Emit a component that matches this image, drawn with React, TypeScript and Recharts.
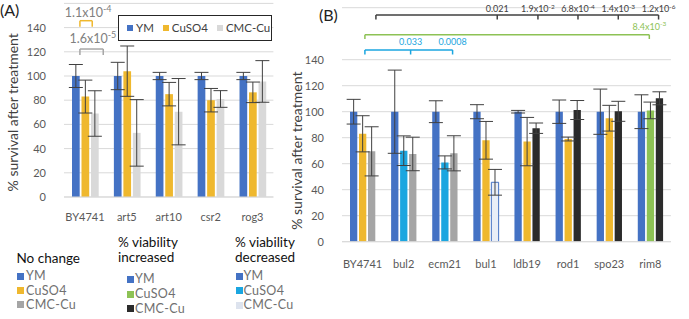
import React from "react";
import {
    BarChart,
    Bar,
    XAxis,
    YAxis,
    CartesianGrid,
    ErrorBar,
    Cell,
    Legend,
    ReferenceLine,
    ReferenceDot,
} from "recharts";

// panel A values
const strainsA = ["BY4741", "art5", "art10", "csr2", "rog3"];
const ymA = [100, 100, 100, 100, 100];
const ymErrA = [9.5, 11.3, 3, 3, 3];
const cuA = [83, 104, 85, 80, 86.5];
const cuErrA = [13.6, 20.8, 9.7, 9.7, 8.5];
const cmcA = [69, 53, 70.5, 81, 95.5];
const cmcErrA = [18.8, 27.5, 27.4, 6.9, 17.2];

// panel B values
const strainsB = ["BY4741", "bul2", "ecm21", "bul1", "ldb19", "rod1", "spo23", "rim8"];
const ymB = [100, 100, 100, 100, 100, 100, 100, 100];
const ymErrB = [9.5, 32, 8.4, 5.4, 1, 9, 17.4, 13];
const cuB = [83, 70, 61, 78, 77, 79, 95, 101];
const cuErrB = [13.9, 11.4, 5, 14.5, 18.6, 1.5, 9.9, 6.4];
const cmcB = [69.5, 67.5, 68, 45.7, 87.3, 101.3, 100.3, 110.3];
const cmcErrB = [18.9, 12.9, 13.5, 9.9, 4, 7.3, 7.7, 5];
const cuChangeB = ["none", "down", "down", "none", "none", "none", "none", "up"];
const cmcChangeB = ["none", "none", "none", "down", "up", "up", "up", "up"];

const seriesNames = ["YM", "CuSO4", "CMC-Cu"];
const yTicks = [0, 20, 40, 60, 80, 100, 120, 140];

// p-value brackets: [strain, position inside its category band]
const bracketsA = [
    { color: "#EFB82E", text: "#808080", y: 145.7, drop: 5, ticks: [["BY4741", 0.38], ["BY4741", 0.674]], labels: [{ at: ["BY4741", 0.578], text: "1.1x10^-4", lift: 3.5, size: 12.5 }] },
    { color: "#A6A6A6", text: "#808080", y: 122.3, drop: 4.9, ticks: [["BY4741", 0.38], ["BY4741", 0.937]], labels: [{ at: ["BY4741", 0.69], text: "1.6x10^-5", lift: 6, size: 12.5 }] },
];
const bracketsB = [
    {
        color: "#404040", text: "#404040", y: 174.4, drop: 3.5,
        ticks: [["BY4741", 0.825], ["bul1", 0.776], ["ldb19", 0.766], ["rod1", 0.74], ["spo23", 0.72], ["rim8", 0.7]],
        labels: [
            { at: ["bul1", 0.776], text: "0.021", lift: 2.5, size: 9 },
            { at: ["ldb19", 0.766], text: "1.9x10^-2", lift: 2.5, size: 9 },
            { at: ["rod1", 0.74], text: "6.8x10^-4", lift: 2.5, size: 9 },
            { at: ["spo23", 0.72], text: "1.4x10^-3", lift: 2.5, size: 9 },
            { at: ["rim8", 0.7], text: "1.2x10^-6", lift: 2.5, size: 9 },
        ],
    },
    {
        color: "#8DC255", text: "#8DC255", y: 159.2, drop: 3.3,
        ticks: [["BY4741", 0.557], ["rim8", 0.475]],
        labels: [{ at: ["rim8", 0.475], text: "8.4x10^-3", lift: 5, size: 9 }],
    },
    {
        color: "#1BA6E0", text: "#1BA6E0", y: 147.5, drop: 3.5,
        ticks: [["BY4741", 0.557], ["bul2", 0.669], ["ecm21", 0.69]],
        labels: [
            { at: ["bul2", 0.669], text: "0.033", lift: 4.5, size: 9 },
            { at: ["ecm21", 0.69], text: "0.0008", lift: 4.5, size: 9 },
        ],
    },
];

const FONT = "Lato, 'Open Sans', sans-serif";
const BLUE = "#4472C4";
const YELLOW = "#EFB82E";
const LIGHT = "#D9D9D9";
const GRAY = "#A5A5A5";
const CYAN = "#1BA6E0";
const GREEN = "#8DC255";
const DARK = "#2B2B2B";
const PALE = "#E9EEF7";

const cuFill: Record<string, string> = { none: YELLOW, down: CYAN, up: GREEN };
const cmcFill: Record<string, string> = { none: GRAY, down: PALE, up: DARK };

// slot = centre of each category band, used by the hidden numeric axis
const tableA = strainsA.map((s, i) => ({
    strain: s, slot: i + 0.5, ym: ymA[i], ymErr: ymErrA[i], cu: cuA[i], cuErr: cuErrA[i], cmc: cmcA[i], cmcErr: cmcErrA[i],
}));
const tableB = strainsB.map((s, i) => ({
    strain: s, slot: i + 0.5, ym: ymB[i], ymErr: ymErrB[i], cu: cuB[i], cuErr: cuErrB[i], cmc: cmcB[i], cmcErr: cmcErrB[i],
}));

const tickStyle = { fill: "#595959", fontSize: 11, fontFamily: FONT };

const sciLabel = (text: string, color: string, size: number, lift: number) => (p: any) => {
    const vb = p.viewBox;
    const [base, exp] = text.split("^");
    return (
        <text x={vb.x + vb.width / 2} y={vb.y - lift} textAnchor="middle" fill={color} fontSize={size} fontFamily={FONT}>
            {base}
            {exp && <tspan dy={-size * 0.38} fontSize={size * 0.72}>{exp}</tspan>}
        </text>
    );
};

function bracketMarks(b: any, cats: string[], id: string) {
    const pos = (t: any) => cats.indexOf(t[0]) + t[1];
    const xs = b.ticks.map(pos);
    const els: any[] = [
        <ReferenceLine key={id + "h"} xAxisId="pos" ifOverflow="visible"
            segment={[{ x: Math.min(...xs), y: b.y }, { x: Math.max(...xs), y: b.y }]} stroke={b.color} strokeWidth={1.5} />,
    ];
    xs.forEach((x: number, i: number) =>
        els.push(<ReferenceLine key={id + "t" + i} xAxisId="pos" ifOverflow="visible"
            segment={[{ x, y: b.y }, { x, y: b.y - b.drop }]} stroke={b.color} strokeWidth={1.5} />)
    );
    b.labels.forEach((l: any, i: number) =>
        els.push(
            <ReferenceDot key={id + "l" + i} xAxisId="pos" ifOverflow="visible" x={pos(l.at)} y={b.y} r={0} fill="none" stroke="none"
                label={{ content: sciLabel(l.text, b.text, l.size, l.lift) }} />
        )
    );
    return els;
}

const axisTitle = (dx: number, top: number) => (p: any) => {
    const vb = p.viewBox;
    const x = vb.x + dx;
    const y = vb.y + vb.height * (1 - 70 / top);
    return (
        <text x={x} y={y} transform={`rotate(-90 ${x} ${y})`} textAnchor="middle" dominantBaseline="central"
            fill="#404040" fontSize={14} fontFamily={FONT}>
            % survival after treatment
        </text>
    );
};

const legendBoxA = (p: any) => {
    const items = [...(p.payload || [])].sort((a: any, b: any) => seriesNames.indexOf(a.value) - seriesNames.indexOf(b.value));
    return (
        <div style={{ boxSizing: "border-box", width: 154, height: 26, border: "1.3px solid #262626", background: "#fff", display: "flex", alignItems: "center", paddingLeft: 8, fontFamily: FONT, fontSize: 11.5, color: "#404040", whiteSpace: "nowrap" }}>
            {items.map((e: any) => (
                <span key={e.value} style={{ display: "flex", alignItems: "center", marginRight: 9 }}>
                    <span style={{ width: 6, height: 6, background: e.color, marginRight: 3 }} />
                    {e.value}
                </span>
            ))}
        </div>
    );
};

const errProps = { width: 7, stroke: "#404040", strokeWidth: 1, direction: "y" as const, isAnimationActive: false };

const legendCols = [
    { left: 16.5, square: 16.5, text: 26, titles: [["No change", 257.5]], items: [["YM", BLUE, 276], ["CuSO4", YELLOW, 290.5], ["CMC-Cu", GRAY, 304.5]] },
    { left: 118, square: 126.5, text: 135, titles: [["% viability", 241.5], ["increased", 257]], items: [["YM", BLUE, 279], ["CuSO4", GREEN, 294], ["CMC-Cu", DARK, 308.5]] },
    { left: 235, square: 235.5, text: 243.5, titles: [["% viability", 241.5], ["decreased", 257]], items: [["YM", BLUE, 276], ["CuSO4", CYAN, 290.5], ["CMC-Cu", "#DDE3EE", 305]] },
];

export default function App() {
    return (
        <div style={{ position: "absolute", left: 0, top: 0, width: 689, height: 319, background: "#fff", fontFamily: FONT }}>
            <div style={{ position: "absolute", left: 0, top: 0 }}>
                <BarChart width={290} height={230} data={tableA} margin={{ top: 3.4, right: 16.6, bottom: 3, left: 0 }}
                    barSize={7.7} barGap={1.8}>
                    <CartesianGrid vertical={false} stroke="#D9D9D9" />
                    <XAxis dataKey="strain" interval={0} height={30} tickLine={false} axisLine={{ stroke: "#D9D9D9" }} tick={tickStyle} tickMargin={10} />
                    <XAxis xAxisId="pos" dataKey="slot" type="number" scale="linear" domain={[0, strainsA.length]} allowDataOverflow hide />
                    <YAxis domain={[0, 160]} ticks={yTicks} width={64} tickLine={false} axisLine={false} tick={tickStyle} tickMargin={12}
                        label={{ content: axisTitle(13, 160) }} />
                    <Bar dataKey="ym" name="YM" fill={BLUE} isAnimationActive={false}>
                        <ErrorBar dataKey="ymErr" {...errProps} />
                    </Bar>
                    <Bar dataKey="cu" name="CuSO4" fill={YELLOW} isAnimationActive={false}>
                        <ErrorBar dataKey="cuErr" {...errProps} />
                    </Bar>
                    <Bar dataKey="cmc" name="CMC-Cu" fill={LIGHT} isAnimationActive={false}>
                        <ErrorBar dataKey="cmcErr" {...errProps} />
                    </Bar>
                    {bracketsA.map((b, i) => bracketMarks(b, strainsA, "a" + i))}
                    <Legend layout="horizontal" verticalAlign="middle" align="center" content={legendBoxA}
                        wrapperStyle={{ left: 118, top: 14.5, width: 154, height: 26 }} />
                </BarChart>
            </div>
            <div style={{ position: "absolute", left: 290, top: 0 }}>
                <BarChart width={399} height={280} data={tableB} margin={{ top: 7.7, right: 18.1, bottom: 8.3, left: 0 }}
                    barSize={7.3} barGap={1.7}>
                    <CartesianGrid vertical={false} stroke="#D9D9D9" />
                    <XAxis dataKey="strain" interval={0} height={30} tickLine={false} axisLine={{ stroke: "#D9D9D9" }} tick={tickStyle} tickMargin={12} />
                    <XAxis xAxisId="pos" dataKey="slot" type="number" scale="linear" domain={[0, strainsB.length]} allowDataOverflow hide />
                    <YAxis domain={[0, 180]} ticks={yTicks} width={52} tickLine={false} axisLine={false} tick={tickStyle} tickMargin={12}
                        allowDataOverflow label={{ content: axisTitle(7, 180) }} />
                    <Bar dataKey="ym" name="YM" fill={BLUE} isAnimationActive={false}>
                        <ErrorBar dataKey="ymErr" {...errProps} />
                    </Bar>
                    <Bar dataKey="cu" name="CuSO4" isAnimationActive={false}>
                        {cuChangeB.map((c, i) => <Cell key={i} fill={cuFill[c]} />)}
                        <ErrorBar dataKey="cuErr" {...errProps} />
                    </Bar>
                    <Bar dataKey="cmc" name="CMC-Cu" isAnimationActive={false}>
                        {cmcChangeB.map((c, i) => (
                            <Cell key={i} fill={cmcFill[c]} stroke={c === "down" ? BLUE : "none"} strokeWidth={1} />
                        ))}
                        <ErrorBar dataKey="cmcErr" {...errProps} />
                    </Bar>
                    {bracketsB.map((b, i) => bracketMarks(b, strainsB, "b" + i))}
                </BarChart>
            </div>
            <div style={{ position: "absolute", left: 0, top: 1, fontSize: 16, lineHeight: "18px", color: "#222" }}>(A)</div>
            <div style={{ position: "absolute", left: 319, top: 6, fontSize: 16, lineHeight: "18px", color: "#222" }}>(B)</div>
            {legendCols.map((col, ci) => (
                <React.Fragment key={ci}>
                    {col.titles.map(([t, y]) => (
                        <div key={t as string} style={{ position: "absolute", left: col.left, top: (y as number) - 9, fontSize: 13.5, lineHeight: "18px", color: "#111", whiteSpace: "nowrap" }}>{t}</div>
                    ))}
                    {col.items.map(([t, c, y]) => (
                        <React.Fragment key={t as string}>
                            <div style={{ position: "absolute", left: col.square, top: (y as number) - 3.5, width: 7, height: 7, background: c as string }} />
                            <div style={{ position: "absolute", left: col.text, top: (y as number) - 8, fontSize: 12.5, lineHeight: "16px", color: "#707070", letterSpacing: 0.3 }}>{t}</div>
                        </React.Fragment>
                    ))}
                </React.Fragment>
            ))}
        </div>
    );
}
